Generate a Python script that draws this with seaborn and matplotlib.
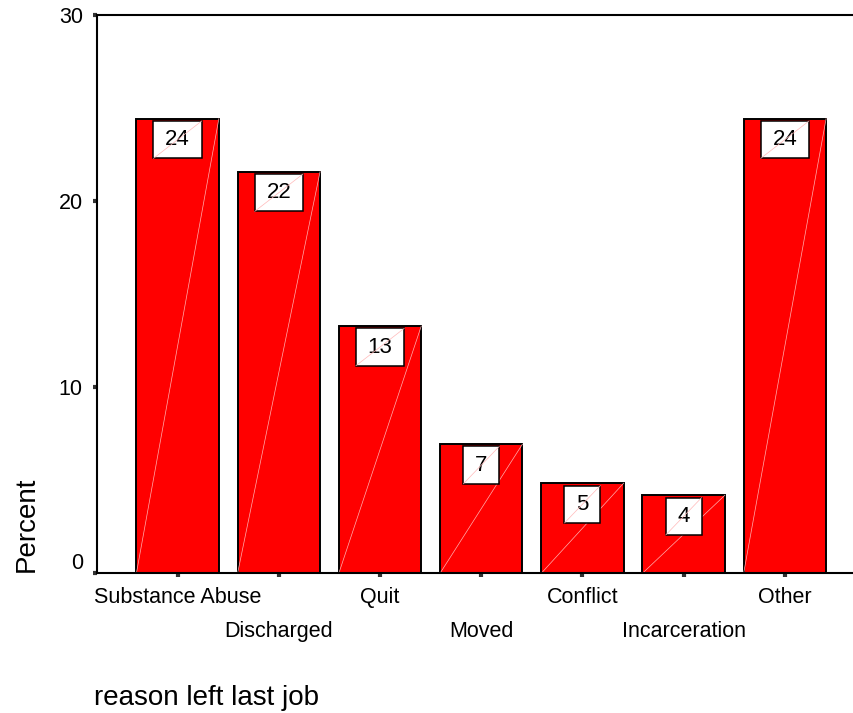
import matplotlib
matplotlib.use("Agg")
import matplotlib.pyplot as plt
import matplotlib.transforms as mtransforms
from matplotlib.path import Path
from matplotlib.lines import Line2D
import pandas as pd
import seaborn as sns

# Reasons for leaving the last job, percent of respondents
categories = ["Substance Abuse", "Discharged", "Quit", "Moved",
              "Conflict", "Incarceration", "Other"]
percents = [24.45, 21.6, 13.3, 6.95, 4.85, 4.2, 24.45]
y_ticks = [0, 10, 20, 30]
x_title = "reason left last job"
y_title = "Percent"

sns.set_theme(style="white")
plt.rcParams["font.family"] = ["Liberation Sans", "DejaVu Sans"]
plt.rcParams["text.color"] = "black"

fig = plt.figure(figsize=(8.54, 7.13), dpi=100)
ax = fig.add_axes([0.1132, 0.1959, 0.8868, 0.7826])

df = pd.DataFrame({"reason": categories, "percent": percents})
sns.barplot(data=df, x="reason", y="percent", color="#ff0000", saturation=1,
            edgecolor="black", linewidth=1.4, width=0.815, ax=ax, zorder=2)

ax.set_xlim(-0.80, 6.683)
ax.set_ylim(0, 30)
ax.set_yticks(y_ticks)
ax.set_xlabel("")
ax.set_ylabel("")

for side in ("left", "bottom", "top"):
    ax.spines[side].set_visible(True)
    ax.spines[side].set_color("black")
    ax.spines[side].set_linewidth(1.5)
ax.spines["right"].set_visible(False)

ax.tick_params(axis="both", direction="out", length=3, width=3,
               color="#333333", labelsize=15.5, labelcolor="black")
ax.tick_params(axis="x", pad=6.6, bottom=True)
ax.tick_params(axis="y", pad=7, left=True)

# stagger the category names on two rows
for i, lab in enumerate(ax.get_xticklabels()):
    if i % 2 == 1:
        lab.set_transform(lab.get_transform() +
                          mtransforms.ScaledTranslation(0, -0.343, fig.dpi_scale_trans))

# lift the zero label clear of the category names
ylabs = ax.get_yticklabels()
ylabs[0].set_transform(ylabs[0].get_transform() +
                       mtransforms.ScaledTranslation(0, 0.123, fig.dpi_scale_trans))

# faint diagonal across every bar
for p in ax.patches:
    ax.plot([p.get_x(), p.get_x() + p.get_width()],
            [p.get_y(), p.get_y() + p.get_height()],
            color="#ffb0b0", lw=0.5, zorder=2.5)


def label_box(x0, y0, width, height, mutation_size):
    px = 0.53 * mutation_size
    py = 0.37 * mutation_size
    xa, ya = x0 - px, y0 - py
    xb, yb = x0 + width + px, y0 + height + py
    return Path([(xa, ya), (xb, ya), (xb, yb), (xa, yb), (xa, ya)],
                [Path.MOVETO, Path.LINETO, Path.LINETO, Path.LINETO, Path.CLOSEPOLY])


value_labels = []
for p, v in zip(ax.patches, percents):
    t = ax.annotate(f"{v:.0f}", xy=(p.get_x() + p.get_width() / 2, v),
                    xytext=(0, -15.2), textcoords="offset points",
                    ha="center", va="center", fontsize=16, color="black",
                    bbox=dict(boxstyle=label_box, facecolor="white",
                              edgecolor="black", linewidth=1.1),
                    zorder=4)
    value_labels.append(t)

fig.text(33.3 / 854, 1 - 571.7 / 713, y_title, rotation=90, rotation_mode="anchor",
         ha="left", va="baseline", fontsize=20, color="black")
fig.text(94.5 / 854, 1 - 705 / 713, x_title, ha="left", va="baseline",
         fontsize=20, color="black")

# faint diagonal across every value box
fig.canvas.draw()
renderer = fig.canvas.get_renderer()
inv = fig.transFigure.inverted()
for t in value_labels:
    bb = t.get_bbox_patch().get_window_extent(renderer)
    pts = inv.transform([[bb.x0, bb.y0], [bb.x1, bb.y1]])
    fig.add_artist(Line2D(pts[:, 0], pts[:, 1], transform=fig.transFigure,
                          color="#ffb8b8", lw=0.5, zorder=5))

fig.savefig("out.png", dpi=100)
